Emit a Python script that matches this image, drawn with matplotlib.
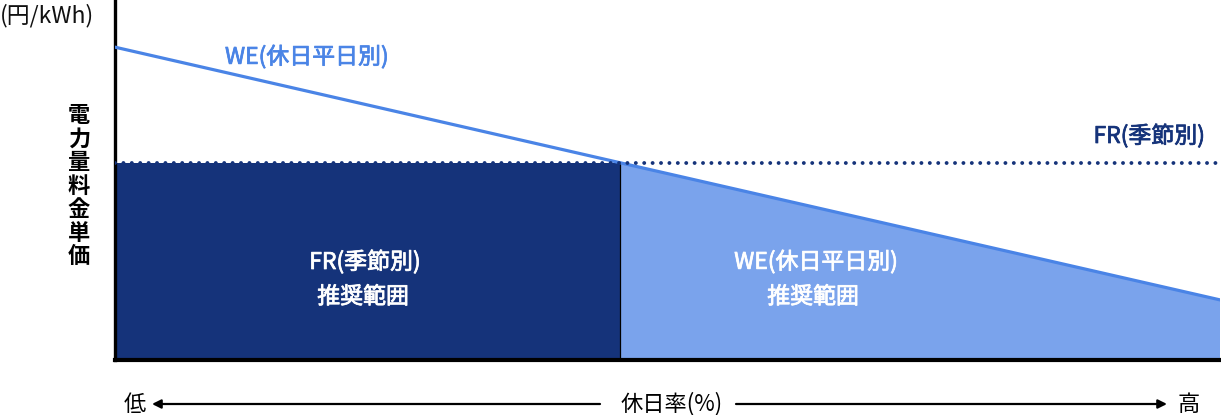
import matplotlib
matplotlib.use("Agg")
import matplotlib.pyplot as plt
from matplotlib.patches import Rectangle, Polygon, FancyArrowPatch
import matplotlib.patheffects as pe

plt.rcParams['font.family'] = ['Noto Sans CJK JP', 'DejaVu Sans']

# data (holiday rate % on x, price index on y)
holiday_rate = [0, 45.7, 100]
we_price = [86.9, 54.8, 16.7]
fr_price = 54.7
cross_x = 45.7

navy = '#15337a'
light = '#7aa3ec'
line_blue = '#4a84e6'

fig = plt.figure(figsize=(12.21, 4.15), dpi=100)
ax = fig.add_axes([115/1221, 1-360/415, 1105/1221, 360/415])
ax.set_xlim(0, 100)
ax.set_ylim(0, 100)

ax.add_patch(Rectangle((0, 0), cross_x, fr_price, facecolor=navy, edgecolor='none', zorder=1))
ax.add_patch(Polygon([(holiday_rate[1], 0), (holiday_rate[1], we_price[1]),
                      (holiday_rate[2], we_price[2]), (holiday_rate[2], 0)],
                     closed=True, facecolor=light, edgecolor='none', zorder=1))
ax.plot([cross_x, cross_x], [0, fr_price], color='black', lw=0.9, zorder=2)
ax.plot(holiday_rate, we_price, color=line_blue, lw=2.3, zorder=3)
ax.plot([0, 100], [fr_price, fr_price], color=navy, lw=2.8,
        linestyle=(0, (0.01, 2.15)), dash_capstyle='round', zorder=4)

for s in ['top', 'right']:
    ax.spines[s].set_visible(False)
ax.spines['left'].set_linewidth(2.4)
ax.spines['bottom'].set_linewidth(3.0)
ax.set_xticks([])
ax.set_yticks([])

def fx(px):
    return px / 1221

def fy(py):
    return 1 - py / 415

def medium(color, w=0.55):
    return [pe.withStroke(linewidth=w, foreground=color)]

# texts
fig.text(fx(0), fy(16), '(円/kWh)', fontsize=16.5, color='#111111', ha='left', va='center')
fig.text(fx(79), fy(186), '\n'.join('電力量料金単価'), fontsize=16, fontweight='bold',
         color='black', ha='center', va='center', linespacing=1.03)
fig.text(fx(225), fy(57), 'WE(休日平日別)', fontsize=16.5,
         color=line_blue, ha='left', va='center', path_effects=medium(line_blue))
fig.text(fx(1205), fy(136), 'FR(季節別)', fontsize=16.5,
         color=navy, ha='right', va='center', path_effects=medium(navy))
fig.text(fx(365), fy(262), 'FR(季節別)', fontsize=16.5,
         color='white', ha='center', va='center', path_effects=medium('white'))
fig.text(fx(363), fy(297), '推奨範囲', fontsize=16.5,
         color='white', ha='center', va='center', path_effects=medium('white'))
fig.text(fx(816), fy(262), 'WE(休日平日別)', fontsize=16.5,
         color='white', ha='center', va='center', path_effects=medium('white'))
fig.text(fx(813), fy(297), '推奨範囲', fontsize=16.5,
         color='white', ha='center', va='center', path_effects=medium('white'))

# bottom axis description
yb = fy(404)
fig.text(fx(135), yb, '低', fontsize=16, color='black', ha='center', va='center')
fig.text(fx(1189), yb, '高', fontsize=16, color='black', ha='center', va='center')
fig.text(fx(672), yb, '休日率(%)', fontsize=16, color='black', ha='center', va='center')
fig.add_artist(FancyArrowPatch((fx(600), yb), (fx(152), yb),
               transform=fig.transFigure, arrowstyle='-|>', mutation_scale=13,
               color='black', lw=1.6, shrinkA=0, shrinkB=0))
fig.add_artist(FancyArrowPatch((fx(736), yb), (fx(1167), yb),
               transform=fig.transFigure, arrowstyle='-|>', mutation_scale=13,
               color='black', lw=1.6, shrinkA=0, shrinkB=0))

fig.savefig('out.png', dpi=100)
